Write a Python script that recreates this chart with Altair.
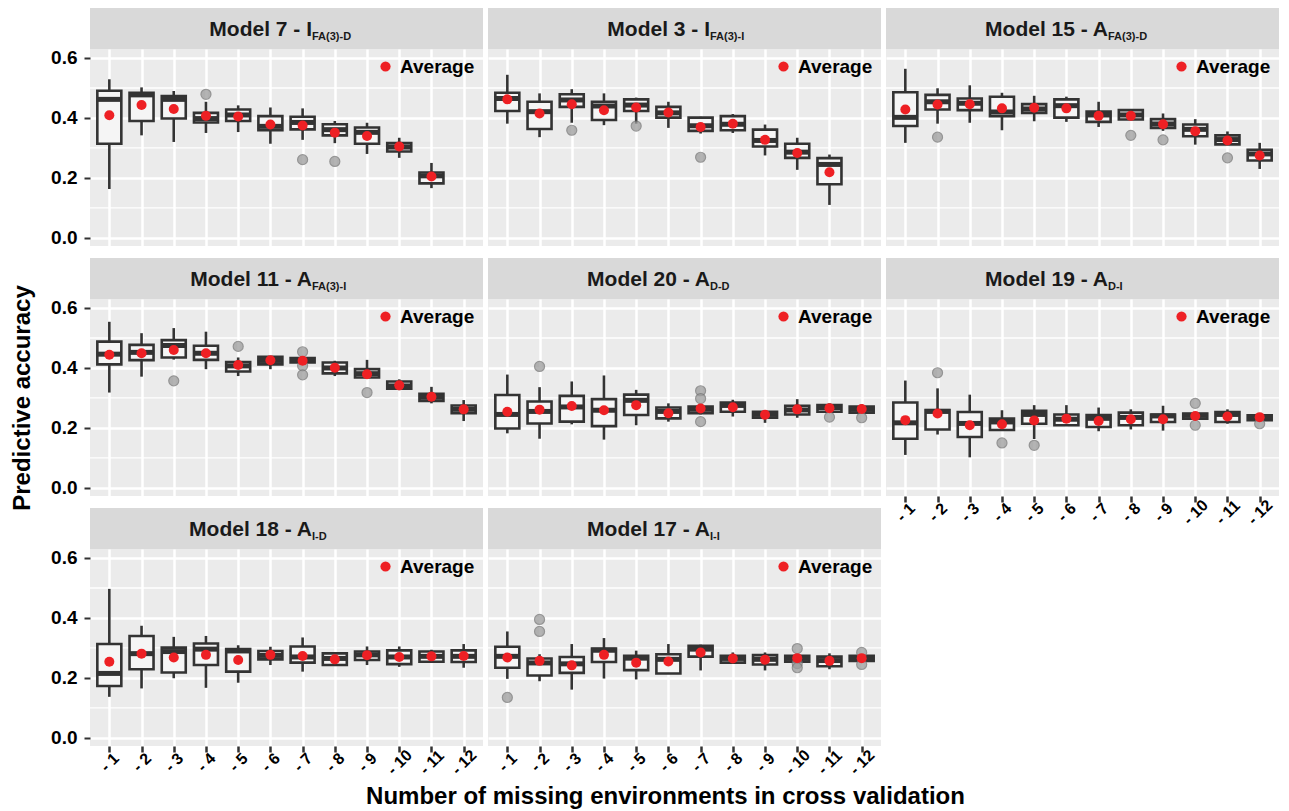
import altair as alt
import pandas as pd

LABELS = [f"- {i}" for i in range(1, 13)]

MODELS = ["Model 7 - I", "Model 3 - I", "Model 15 - A", "Model 11 - A",
          "Model 20 - A", "Model 19 - A", "Model 18 - A", "Model 17 - A"]
SUBS = ["FA(3)-D", "FA(3)-I", "FA(3)-D", "FA(3)-I", "D-D", "D-I", "I-D", "I-I"]

LOW = [
    [0.163, 0.342, 0.320, 0.350, 0.353, 0.314, 0.327, 0.316, 0.280, 0.267, 0.166],
    [0.381, 0.336, 0.384, 0.376, 0.381, 0.367, 0.348, 0.350, 0.275, 0.227, 0.110],
    [0.317, 0.381, 0.384, 0.359, 0.389, 0.387, 0.370, 0.395, 0.357, 0.311, 0.312, 0.230],
    [0.318, 0.371, 0.428, 0.396, 0.373, 0.396, 0.418, 0.373, 0.368, 0.326, 0.282, 0.223],
    [0.182, 0.164, 0.212, 0.161, 0.209, 0.221, 0.245, 0.238, 0.217, 0.234, 0.254, 0.251],
    [0.110, 0.178, 0.102, 0.193, 0.163, 0.209, 0.189, 0.195, 0.191, 0.231, 0.214, 0.226],
    [0.137, 0.165, 0.199, 0.167, 0.184, 0.243, 0.221, 0.243, 0.243, 0.237, 0.254, 0.234],
    [0.197, 0.189, 0.161, 0.198, 0.195, 0.215, 0.225, 0.251, 0.225, 0.254, 0.229, 0.257],
]
Q1 = [
    [0.314, 0.390, 0.398, 0.385, 0.390, 0.359, 0.362, 0.342, 0.314, 0.288, 0.182],
    [0.423, 0.363, 0.437, 0.393, 0.423, 0.401, 0.357, 0.359, 0.305, 0.267, 0.179],
    [0.373, 0.428, 0.426, 0.406, 0.417, 0.401, 0.387, 0.395, 0.367, 0.339, 0.312, 0.258],
    [0.412, 0.426, 0.435, 0.427, 0.388, 0.412, 0.418, 0.382, 0.368, 0.331, 0.290, 0.249],
    [0.198, 0.215, 0.221, 0.206, 0.243, 0.232, 0.249, 0.254, 0.234, 0.245, 0.254, 0.251],
    [0.164, 0.195, 0.170, 0.193, 0.214, 0.209, 0.203, 0.209, 0.220, 0.231, 0.220, 0.226],
    [0.173, 0.229, 0.218, 0.243, 0.221, 0.262, 0.251, 0.243, 0.260, 0.246, 0.254, 0.253],
    [0.234, 0.208, 0.217, 0.253, 0.226, 0.215, 0.271, 0.251, 0.245, 0.254, 0.239, 0.257],
]
MED = [
    [0.462, 0.477, 0.462, 0.398, 0.410, 0.372, 0.385, 0.361, 0.352, 0.303, 0.207],
    [0.465, 0.421, 0.460, 0.440, 0.443, 0.417, 0.374, 0.379, 0.325, 0.286, 0.245],
    [0.402, 0.454, 0.449, 0.420, 0.430, 0.441, 0.410, 0.410, 0.380, 0.362, 0.328, 0.280],
    [0.446, 0.452, 0.475, 0.449, 0.407, 0.425, 0.427, 0.400, 0.381, 0.340, 0.302, 0.262],
    [0.245, 0.255, 0.270, 0.259, 0.292, 0.255, 0.262, 0.275, 0.245, 0.260, 0.268, 0.262],
    [0.217, 0.255, 0.215, 0.220, 0.245, 0.229, 0.232, 0.235, 0.240, 0.242, 0.245, 0.236],
    [0.215, 0.281, 0.288, 0.296, 0.290, 0.275, 0.270, 0.265, 0.277, 0.270, 0.272, 0.272],
    [0.272, 0.250, 0.247, 0.292, 0.266, 0.262, 0.296, 0.265, 0.262, 0.265, 0.258, 0.267],
]
Q3 = [
    [0.491, 0.484, 0.473, 0.417, 0.428, 0.406, 0.404, 0.379, 0.368, 0.316, 0.218],
    [0.484, 0.454, 0.479, 0.454, 0.462, 0.437, 0.401, 0.406, 0.361, 0.314, 0.266],
    [0.486, 0.477, 0.465, 0.471, 0.446, 0.462, 0.421, 0.426, 0.396, 0.378, 0.342, 0.294],
    [0.488, 0.477, 0.493, 0.474, 0.420, 0.437, 0.433, 0.418, 0.396, 0.355, 0.314, 0.275],
    [0.310, 0.288, 0.307, 0.296, 0.311, 0.268, 0.271, 0.285, 0.254, 0.274, 0.276, 0.271],
    [0.285, 0.260, 0.253, 0.231, 0.257, 0.245, 0.243, 0.251, 0.245, 0.248, 0.253, 0.242],
    [0.313, 0.340, 0.301, 0.315, 0.296, 0.290, 0.305, 0.282, 0.288, 0.292, 0.288, 0.292],
    [0.304, 0.265, 0.270, 0.298, 0.274, 0.279, 0.307, 0.274, 0.276, 0.274, 0.271, 0.274],
]
HIGH = [
    [0.529, 0.502, 0.490, 0.454, 0.442, 0.435, 0.432, 0.390, 0.384, 0.334, 0.250],
    [0.544, 0.482, 0.496, 0.482, 0.468, 0.454, 0.404, 0.413, 0.378, 0.334, 0.278],
    [0.564, 0.499, 0.509, 0.484, 0.474, 0.471, 0.454, 0.430, 0.415, 0.396, 0.355, 0.317],
    [0.554, 0.516, 0.533, 0.521, 0.435, 0.440, 0.437, 0.424, 0.427, 0.362, 0.337, 0.293],
    [0.378, 0.336, 0.355, 0.375, 0.327, 0.282, 0.274, 0.294, 0.256, 0.296, 0.282, 0.279],
    [0.358, 0.332, 0.311, 0.259, 0.276, 0.276, 0.268, 0.262, 0.274, 0.249, 0.262, 0.245],
    [0.497, 0.374, 0.337, 0.340, 0.309, 0.304, 0.335, 0.285, 0.305, 0.305, 0.294, 0.313],
    [0.355, 0.279, 0.313, 0.333, 0.291, 0.313, 0.311, 0.285, 0.285, 0.277, 0.282, 0.274],
]
MEAN = [
    [0.409, 0.443, 0.430, 0.407, 0.405, 0.378, 0.375, 0.351, 0.340, 0.305, 0.205],
    [0.462, 0.415, 0.446, 0.426, 0.435, 0.418, 0.370, 0.381, 0.327, 0.283, 0.219],
    [0.428, 0.445, 0.446, 0.432, 0.434, 0.432, 0.407, 0.407, 0.379, 0.356, 0.325, 0.275],
    [0.444, 0.449, 0.460, 0.449, 0.410, 0.426, 0.424, 0.401, 0.379, 0.342, 0.304, 0.262],
    [0.254, 0.261, 0.273, 0.259, 0.276, 0.249, 0.265, 0.269, 0.244, 0.262, 0.266, 0.263],
    [0.226, 0.248, 0.209, 0.212, 0.225, 0.231, 0.223, 0.229, 0.229, 0.240, 0.238, 0.236],
    [0.254, 0.281, 0.268, 0.277, 0.260, 0.277, 0.273, 0.262, 0.276, 0.270, 0.272, 0.273],
    [0.268, 0.257, 0.242, 0.277, 0.251, 0.255, 0.285, 0.265, 0.261, 0.266, 0.257, 0.266],
]
# outliers: (panel index, environment number, value)
OUTLIERS = [
    (0, 4, 0.479), (0, 7, 0.261), (0, 8, 0.255),
    (1, 3, 0.359), (1, 5, 0.373), (1, 7, 0.269),
    (2, 2, 0.336), (2, 8, 0.342), (2, 9, 0.327), (2, 11, 0.267),
    (3, 3, 0.357), (3, 5, 0.472), (3, 7, 0.454), (3, 7, 0.407), (3, 7, 0.377), (3, 9, 0.318),
    (4, 2, 0.405), (4, 7, 0.324), (4, 7, 0.298), (4, 7, 0.221), (4, 11, 0.236), (4, 12, 0.234),
    (5, 2, 0.384), (5, 4, 0.150), (5, 5, 0.142), (5, 10, 0.282), (5, 10, 0.209), (5, 12, 0.214),
    (7, 1, 0.135), (7, 2, 0.395), (7, 2, 0.355), (7, 10, 0.298), (7, 10, 0.248), (7, 10, 0.234),
    (7, 12, 0.285), (7, 12, 0.245),
]

MAJOR = [0.0, 0.2, 0.4, 0.6]
MINOR = [0.1, 0.3, 0.5]
YTITLE = "Predictive accuracy"
XTITLE = "Number of missing environments in cross validation"

W, H = 393, 197
STRIP = 41
DARK = "#333333"
RED = "#ee2024"
FONT = "Liberation Sans"


def panel(i):
    n = len(MEAN[i])
    df = pd.DataFrame({
        "env": LABELS[:n], "lo": LOW[i], "q1": Q1[i], "med": MED[i],
        "q3": Q3[i], "hi": HIGH[i], "mean": MEAN[i], "stat": ["Average"] * n,
    })
    odf = pd.DataFrame([(LABELS[e - 1], v) for (p, e, v) in OUTLIERS if p == i],
                       columns=["env", "v"])
    sdf = pd.DataFrame({"main": [MODELS[i]], "sub": [SUBS[i]]})
    mdf = pd.DataFrame({"v": MINOR})

    col = i % 3
    bottom = i in (5, 6, 7)
    left = col == 0

    xkw = dict(labels=bottom, ticks=bottom, domain=False, grid=True,
               gridColor="white", gridWidth=2.5)
    if bottom:
        xkw.update(labelAngle=-45, labelAlign="center", labelBaseline="middle",
                   labelFontSize=16, labelFontWeight="bold", labelColor="black",
                   labelPadding=10, tickSize=6, tickWidth=2.5, tickColor=DARK)
    if i == 7:
        xkw.update(title=XTITLE, titleFontSize=24, titleFontWeight="bold",
                   titleColor="black", titlePadding=7, titleX=177)
    else:
        xkw.update(title=None)
    ykw = dict(values=MAJOR, labels=left, ticks=left, domain=False, grid=True,
               gridColor="white", gridWidth=2.5, format=".1f")
    if left:
        ykw.update(labelFontSize=19, labelFontWeight="bold", labelColor="black",
                   labelPadding=7, tickSize=6, tickWidth=2, tickColor=DARK)
    if i == 3:
        ykw.update(title=YTITLE, titleFontSize=24, titleFontWeight="bold",
                   titleColor="black", titlePadding=16)
    else:
        ykw.update(title=None)

    xs = alt.Scale(type="point", domain=LABELS, padding=0.6)
    ys = alt.Scale(domain=[-0.027, 0.63], nice=False, zero=False)
    xax = alt.Axis(**xkw)
    yax = alt.Axis(**ykw)

    def X():
        return alt.X("env:N", scale=xs, axis=xax)

    def Y(f):
        return alt.Y(f"{f}:Q", scale=ys, axis=yax)

    layers = []
    layers.append(alt.Chart(mdf).mark_rule(color="white", strokeWidth=1.3).encode(y=Y("v")))
    layers.append(alt.Chart(df).mark_rule(color=DARK, strokeWidth=2.6).encode(
        x=X(), y=Y("lo"), y2="hi"))
    layers.append(alt.Chart(df).mark_bar(size=24, fill="#f5f5f5", stroke=DARK,
                                         strokeWidth=2.6, opacity=1).encode(
        x=X(), y=Y("q1"), y2="q3"))
    layers.append(alt.Chart(df).mark_tick(color=DARK, thickness=5, size=25, opacity=1).encode(
        x=X(), y=Y("med")))
    if len(odf):
        layers.append(alt.Chart(odf).mark_point(filled=True, size=100, color="#9c9c9c",
                                                opacity=0.75, stroke="#777777",
                                                strokeWidth=1.2).encode(x=X(), y=Y("v")))
    layers.append(alt.Chart(df).mark_point(filled=True, size=100, opacity=1).encode(
        x=X(), y=Y("mean"),
        color=alt.Color("stat:N", scale=alt.Scale(domain=["Average"], range=[RED]),
                        legend=alt.Legend(orient="top-right", title=None, offset=7,
                                          padding=1, labelFontSize=19,
                                          labelFontWeight="bold", labelColor="black",
                                          labelFont=FONT, symbolSize=105,
                                          symbolType="circle", labelOffset=5,
                                          symbolStrokeWidth=0))))
    layers.append(alt.Chart(sdf).mark_rect(color="#d9d9d9").encode(
        x=alt.value(0), x2=alt.value(W), y=alt.value(-STRIP), y2=alt.value(0)))
    layers.append(alt.Chart(sdf).mark_text(align="right", baseline="alphabetic", fontSize=21,
                                           fontWeight="bold", color="#1a1a1a", font=FONT).encode(
        x=alt.value(222), y=alt.value(-13), text="main:N"))
    layers.append(alt.Chart(sdf).mark_text(align="left", baseline="alphabetic", fontSize=11,
                                           fontWeight="bold", color="#1a1a1a", font=FONT).encode(
        x=alt.value(222), y=alt.value(-9), text="sub:N"))
    return alt.layer(*layers).properties(width=W, height=H)


panels = [panel(i) for i in range(8)]

chart = alt.concat(*panels, columns=3, spacing={"row": 53, "column": 5},
                   bounds="flush").resolve_scale(color="independent").properties(
    padding={"left": 2, "top": 0, "right": 0, "bottom": 0}
).configure(font=FONT).configure_view(fill="#ebebeb", stroke=None).configure_axis(
    labelFont=FONT, titleFont=FONT)

chart.save("out.html", embed_options={"renderer": "svg", "actions": False})
